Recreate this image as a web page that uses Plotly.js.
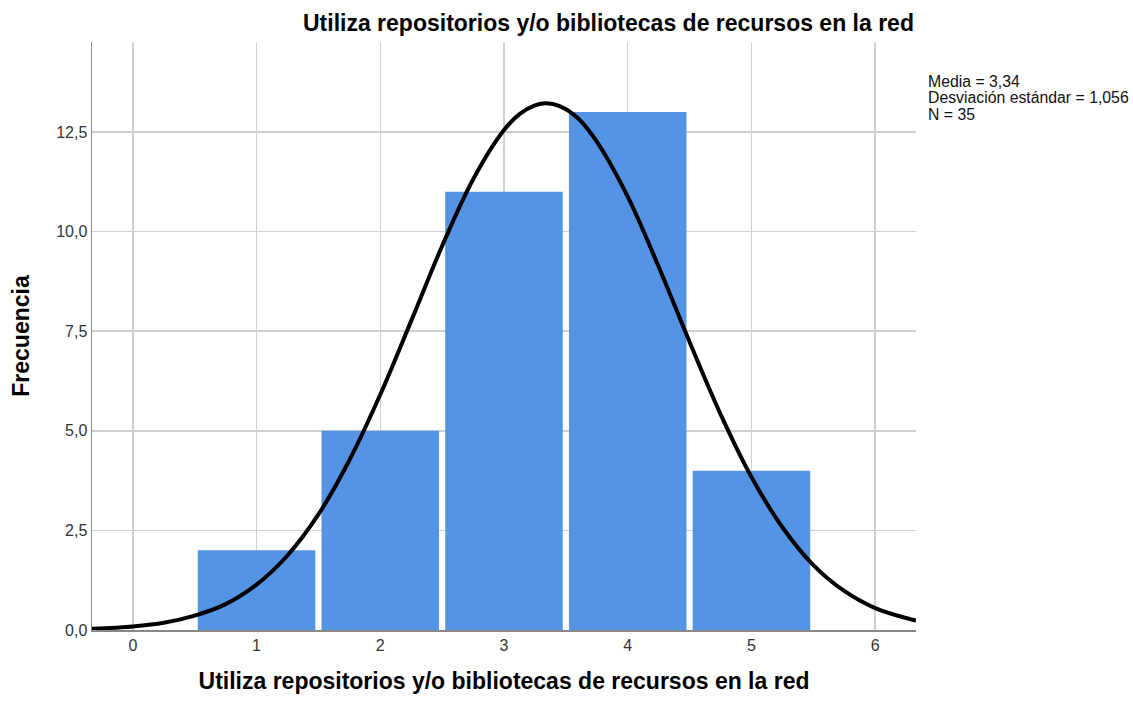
<!DOCTYPE html>
<html>
<head>
<meta charset="utf-8">
<script src="https://cdn.plot.ly/plotly-3.0.1.min.js"></script>
<style>html,body{margin:0;padding:0;background:#fff;}#chart{width:1133px;height:703px;}</style>
</head>
<body>
<div id="chart"></div>
<script>
const categories = [1, 2, 3, 4, 5];
const frequencies = [2, 5, 11, 13, 4];
const curveX = [-0.33, 0, 0.25, 0.5, 0.75, 1, 1.25, 1.5, 1.75, 2, 2.25, 2.5, 2.75, 3, 3.125, 3.25, 3.34, 3.45, 3.6, 3.75, 4, 4.25, 4.5, 4.75, 5, 5.25, 5.5, 5.75, 6, 6.25, 6.33];
const curveY = [0.03, 0.09, 0.18, 0.36, 0.65, 1.14, 1.87, 2.90, 4.26, 5.91, 7.76, 9.64, 11.31, 12.55, 12.95, 13.17, 13.22, 13.15, 12.84, 12.26, 10.88, 9.12, 7.23, 5.42, 3.84, 2.58, 1.63, 0.98, 0.55, 0.30, 0.24];
const xTicks = [0, 1, 2, 3, 4, 5, 6];
const yTicks = [0, 2.5, 5, 7.5, 10, 12.5];
const yTickLabels = ["0,0", "2,5", "5,0", "7,5", "10,0", "12,5"];
const titleText = "Utiliza repositorios y/o bibliotecas de recursos en la red";
const yTitleText = "Frecuencia";
const statsLines = ["Media = 3,34", "Desviación estándar = 1,056", "N = 35"];

const font = "Liberation Sans, Arial, sans-serif";

const traces = [
  {
    type: "bar",
    x: categories,
    y: frequencies,
    width: 0.95,
    marker: {color: "#5594e4", line: {width: 0}},
    hoverinfo: "x+y"
  },
  {
    type: "scatter",
    mode: "lines",
    x: curveX,
    y: curveY,
    line: {color: "#000000", width: 4, shape: "spline", smoothing: 1},
    hoverinfo: "skip"
  }
];

const statsY = [0.932, 0.905, 0.876];
const statsAnnotations = statsLines.map((t, i) => ({
  xref: "paper", yref: "paper",
  x: 1.0125, y: statsY[i],
  xanchor: "left", yanchor: "middle",
  align: "left",
  showarrow: false,
  text: t,
  font: {family: font, size: 15.8, color: "#111"}
}));

const layout = {
  width: 1133,
  height: 703,
  margin: {l: 92, r: 217, t: 42, b: 73},
  paper_bgcolor: "#ffffff",
  plot_bgcolor: "#ffffff",
  showlegend: false,
  separators: ",.",
  font: {family: font, color: "#222"},
  xaxis: {
    range: [-0.33, 6.33],
    tickvals: xTicks,
    ticktext: xTicks.map(String),
    showgrid: true,
    gridcolor: "#d0d0d0",
    gridwidth: 1.5,
    zeroline: false,
    showline: true,
    linecolor: "#888",
    linewidth: 1.5,
    ticks: "",
    tickfont: {family: font, size: 16, color: "#333"},
    title: {text: "<b>" + titleText + "</b>", font: {family: font, size: 23, color: "#000"}, standoff: 20},
    fixedrange: true
  },
  yaxis: {
    range: [0, 14.76],
    tickvals: yTicks,
    ticktext: yTickLabels,
    showgrid: true,
    gridcolor: "#d0d0d0",
    gridwidth: 1.5,
    zeroline: false,
    showline: true,
    linecolor: "#888",
    linewidth: 1.5,
    ticks: "",
    tickfont: {family: font, size: 16, color: "#333"},
    title: {text: "<b>" + yTitleText + "</b>", font: {family: font, size: 23, color: "#000"}, standoff: 20},
    fixedrange: true
  },
  annotations: [
    {
      xref: "paper", yref: "paper",
      x: 1.0, y: 1.0,
      xanchor: "right", yanchor: "bottom",
      yshift: 4,
      showarrow: false,
      text: "<b>" + titleText + "</b>",
      font: {family: font, size: 23, color: "#000"}
    }
  ].concat(statsAnnotations)
};

Plotly.newPlot("chart", traces, layout, {displayModeBar: false, staticPlot: true});
</script>
</body>
</html>
